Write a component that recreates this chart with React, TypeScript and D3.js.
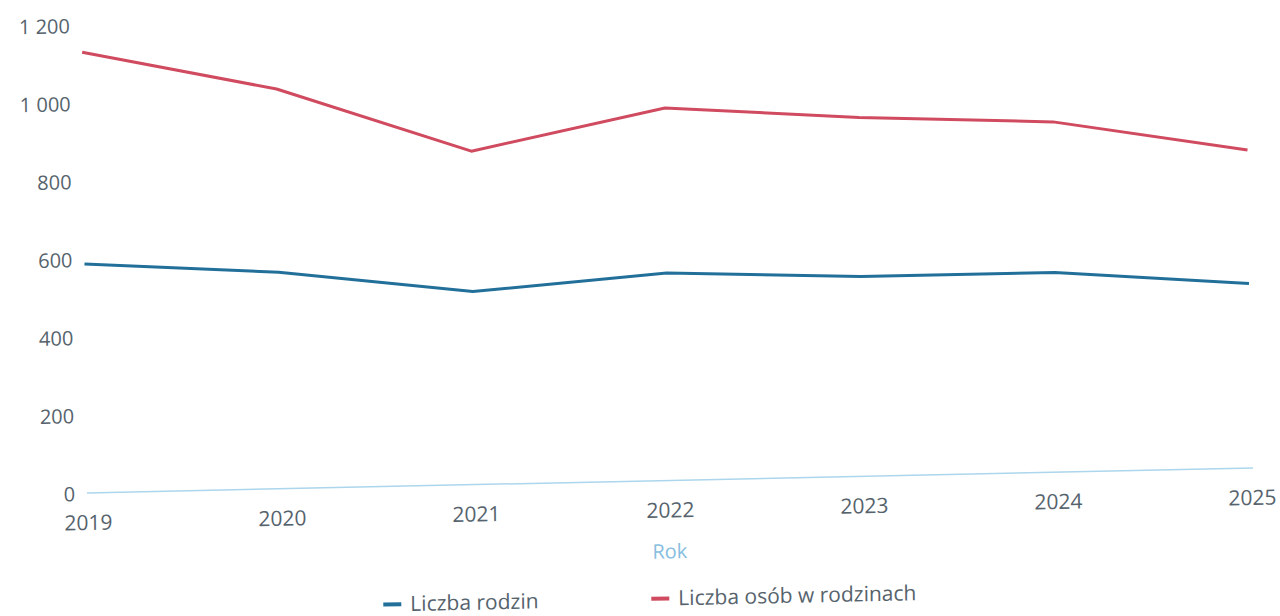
import React, { useEffect, useRef } from 'react';
import * as d3 from 'd3';

// values
const years = ['2019', '2020', '2021', '2022', '2023', '2024', '2025'];
const familyCounts = [587, 555, 495, 532, 512, 512, 473];
const personCounts = [1130, 1025, 855, 955, 920, 898, 815];
const yTicks = [0, 200, 400, 600, 800, 1000, 1200];

const seriesNames = ['Liczba rodzin', 'Liczba osób w rodzinach'];
const seriesColors = ['#22709a', '#d04b5f'];

const App = () => {
  const ref = useRef<SVGSVGElement>(null);

  useEffect(() => {
    const svg = d3.select(ref.current);
    svg.selectAll('*').remove();

    const font = "'Open Sans', sans-serif";
    const textColor = '#56636d';

    // the source is a slightly tilted scan: shear the whole chart around
    // the bottom-left corner of the plot so it leans the same way
    const ox = 85;
    const oy = 493;
    const s = -0.0215; // vertical lean (right side goes up)
    const k = 0.011; // horizontal lean (top goes left)
    const root = svg
      .append('g')
      .attr('transform', 'matrix(1,' + s + ',' + k + ',1,' + -k * oy + ',' + -s * ox + ')');

    const x = d3.scalePoint<string>().domain(years).range([87, 1251]);
    const y = d3.scaleLinear().domain([0, 1200]).range([oy, 25]);

    const fmt = (v: number) => d3.format(',')(v).replace(/,/g, ' ');

    // y tick labels (no grid lines in the original)
    root
      .append('g')
      .selectAll('text')
      .data(yTicks)
      .enter()
      .append('text')
      .attr('x', 75)
      .attr('y', (d) => y(d))
      .attr('dy', '0.4em')
      .attr('text-anchor', 'end')
      .style('font-family', font)
      .style('font-size', '20px')
      .attr('fill', textColor)
      .text((d) => fmt(d));

    // baseline
    root
      .append('line')
      .attr('x1', 87)
      .attr('x2', 1253)
      .attr('y1', y(0))
      .attr('y2', y(0))
      .attr('stroke', '#acd6ec')
      .attr('stroke-width', 1.5);

    // x tick labels
    root
      .append('g')
      .selectAll('text')
      .data(years)
      .enter()
      .append('text')
      .attr('x', (d) => (x(d) as number) + 1)
      .attr('y', y(0) + 37)
      .attr('text-anchor', 'middle')
      .style('font-family', font)
      .style('font-size', '21px')
      .attr('fill', textColor)
      .text((d) => d);

    root
      .append('text')
      .attr('x', 669)
      .attr('y', 571)
      .attr('text-anchor', 'middle')
      .style('font-family', font)
      .style('font-size', '20px')
      .attr('fill', '#86bde0')
      .text('Rok');

    const line = d3
      .line<number>()
      .x((d, i) => x(years[i]) as number)
      .y((d) => y(d));

    [familyCounts, personCounts].forEach((values, i) => {
      root
        .append('path')
        .datum(values)
        .attr('fill', 'none')
        .attr('stroke', seriesColors[i])
        .attr('stroke-width', 3)
        .attr('stroke-linejoin', 'round')
        .attr('d', line);
    });

    // legend
    const legendX = [382, 650];
    seriesNames.forEach((name, i) => {
      const g = root.append('g').attr('transform', 'translate(' + legendX[i] + ',611)');
      g.append('rect')
        .attr('x', 0)
        .attr('y', -2)
        .attr('width', 18)
        .attr('height', 4)
        .attr('fill', seriesColors[i]);
      g.append('text')
        .attr('x', 27)
        .attr('y', 7)
        .style('font-family', font)
        .style('font-size', '21px')
        .attr('fill', textColor)
        .text(name);
    });
  }, []);

  return (
    <svg
      ref={ref}
      width={1280}
      height={616}
      style={{ position: 'absolute', left: 0, top: 0, background: '#fff' }}
    />
  );
};

export default App;
